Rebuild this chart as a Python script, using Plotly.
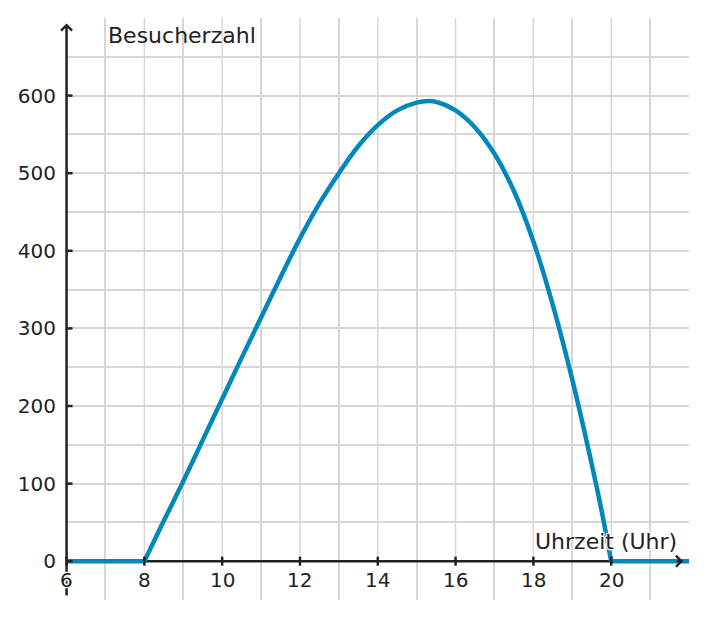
import plotly.graph_objects as go

# visitor count over the day
hours = [6, 7, 8, 8.5, 9, 9.5, 10, 10.5, 11, 11.5, 12, 12.5, 13, 13.5, 14,
         14.5, 15, 15.3, 15.5, 16, 16.5, 17, 17.5, 18, 18.5, 19, 19.5, 19.75,
         20, 21, 22]
visitors = [0, 0, 0, 52, 103, 156, 209, 262, 314, 366, 416, 461, 500, 535, 562,
            581, 591, 593, 592, 581, 559, 525, 477, 412, 330, 234, 125, 66,
            0, 0, 0]

x_ticks = [6, 8, 10, 12, 14, 16, 18, 20]
y_ticks = [0, 100, 200, 300, 400, 500, 600]
x_grid_odd = [7, 9, 11, 13, 15, 17, 19, 21]
x_grid_even = [8, 10, 12, 14, 16, 18, 20]
y_grid_half = [-50, 50, 150, 250, 350, 450, 550, 650]

x_title = 'Uhrzeit (Uhr)'
y_title = 'Besucherzahl'

curve_color = '#0088bb'
axis_color = '#222222'
grid_color = '#d6d6d6'
font_family = 'DejaVu Sans'
halo = '1px 1px 1px white, -1px -1px 1px white, 1px -1px 1px white, -1px 1px 1px white, 0 0 3px white'

x_end = 21.85   # tip of the x arrow
y_end = 693     # tip of the y arrow

# split into flat parts and the hump so the spline doesn't overshoot at the corners
i8 = hours.index(8)
i20 = hours.index(20)

fig = go.Figure()
fig.add_trace(go.Scatter(x=hours[:i8 + 1], y=visitors[:i8 + 1], mode='lines',
                         line=dict(color=curve_color, width=4.5), hoverinfo='skip'))
fig.add_trace(go.Scatter(x=hours[i8:i20 + 1], y=visitors[i8:i20 + 1], mode='lines',
                         line=dict(color=curve_color, width=4.5, shape='spline', smoothing=1.0)))
fig.add_trace(go.Scatter(x=hours[i20:], y=visitors[i20:], mode='lines',
                         line=dict(color=curve_color, width=4.5), hoverinfo='skip'))

shapes = []
# even hour gridlines only above the x axis
for h in x_grid_even:
    shapes.append(dict(type='line', xref='x', yref='y', x0=h, x1=h, y0=0, y1=700,
                       line=dict(color=grid_color, width=1.5), layer='below'))
# x axis line (under the curve)
shapes.append(dict(type='line', xref='x', yref='y', x0=6, x1=x_end, y0=0, y1=0,
                   line=dict(color=axis_color, width=2.5), layer='between'))
# tick marks
for h in x_ticks:
    shapes.append(dict(type='line', xref='x', yref='y', x0=h, x1=h,
                       ysizemode='pixel', yanchor=0, y0=-4.5, y1=4.5,
                       line=dict(color=axis_color, width=2.5)))
for v in y_ticks:
    shapes.append(dict(type='line', xref='x', yref='y', y0=v, y1=v,
                       xsizemode='pixel', xanchor=6, x0=0, x1=6,
                       line=dict(color=axis_color, width=2.5)))

annotations = [
    # y axis with arrow
    dict(x=6, y=y_end, ax=6, ay=-46, xref='x', yref='y', axref='x', ayref='y',
         text='', showarrow=True, arrowhead=4, arrowsize=0.85, arrowwidth=2.5,
         arrowcolor=axis_color),
    # arrow head of the x axis
    dict(x=x_end, y=0, ax=x_end - 0.2, ay=0, xref='x', yref='y', axref='x', ayref='y',
         text='', showarrow=True, arrowhead=4, arrowsize=0.85, arrowwidth=2.5,
         arrowcolor=axis_color),
    dict(x=7.02, y=677, xref='x', yref='y', text=y_title, showarrow=False,
         xanchor='left', yanchor='middle',
         font=dict(family=font_family, size=22, color=axis_color)),
    dict(x=21.75, y=26, xref='x', yref='y', text=x_title, showarrow=False,
         xanchor='right', yanchor='middle',
         font=dict(family=font_family, size=22, color=axis_color, shadow=halo)),
]
for h in x_ticks:
    annotations.append(dict(x=h, y=0, xref='x', yref='y', text=str(h), showarrow=False,
                            xanchor='center', yanchor='middle', yshift=-19,
                            font=dict(family=font_family, size=20, color=axis_color,
                                      shadow=halo)))

# the page body has an 8px margin, so the figure is offset by that much
fig.update_layout(
    width=707, height=619,
    margin=dict(l=57, r=26, t=10, b=27),
    paper_bgcolor='white', plot_bgcolor='white',
    showlegend=False,
    font=dict(family=font_family, size=20, color=axis_color),
    shapes=shapes,
    annotations=annotations,
)
fig.update_xaxes(range=[5.96, 22], tickvals=x_grid_odd, showticklabels=False,
                 showgrid=True, gridcolor=grid_color, gridwidth=1.5,
                 zeroline=False, showline=False, ticks='')
fig.update_yaxes(range=[-50, 700], tickvals=y_ticks, ticktext=[str(v) for v in y_ticks],
                 showgrid=True, gridcolor=grid_color, gridwidth=1.5,
                 minor=dict(tickvals=y_grid_half, showgrid=True, gridcolor=grid_color,
                            gridwidth=1.5, ticks=''),
                 zeroline=False, showline=False, ticks='', ticklabelstandoff=8,
                 tickfont=dict(family=font_family, size=20, color=axis_color))

fig.write_html('out.html')
